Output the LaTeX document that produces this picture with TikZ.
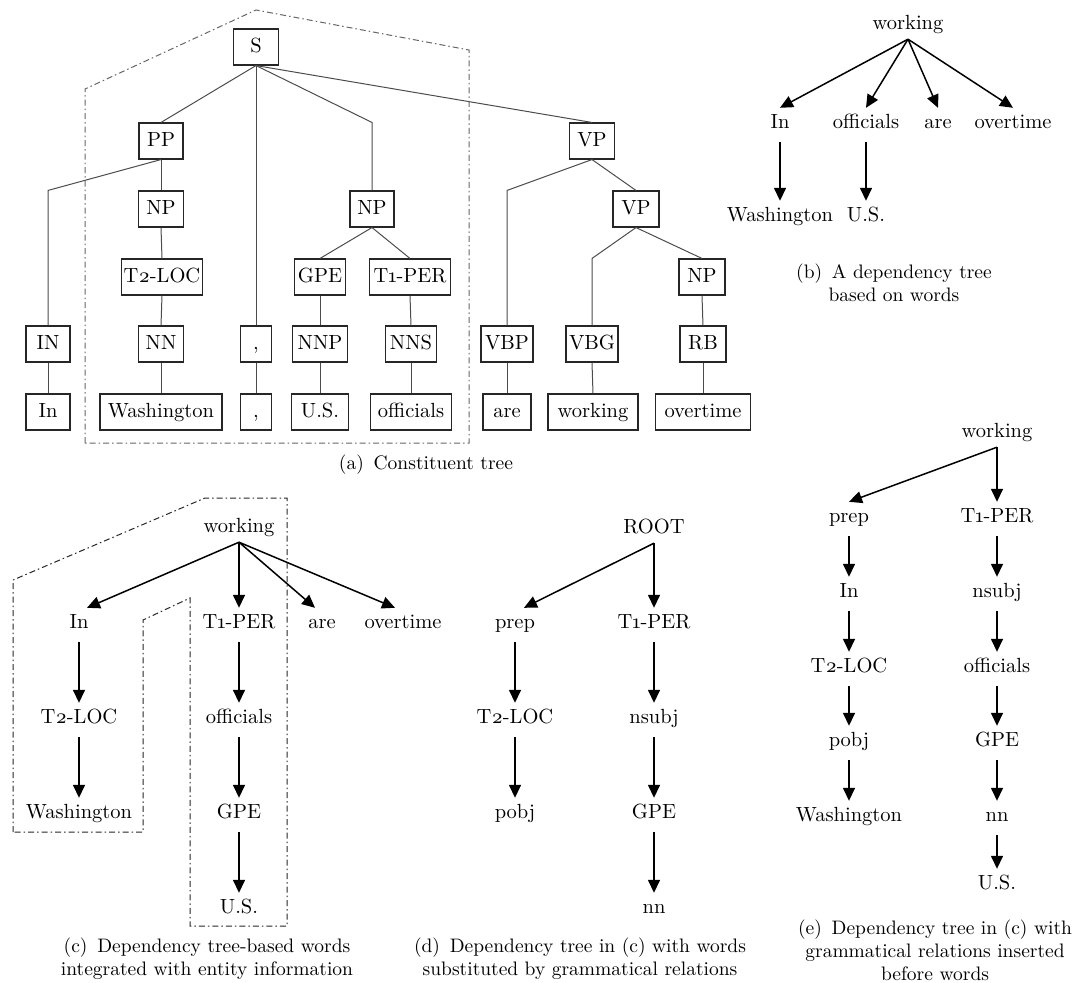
\documentclass[tikz,border=0pt]{standalone}
\usepackage{fontspec}
\setmainfont{lmroman10-regular}[Extension = .otf]
\usepackage{tikz}
\usetikzlibrary{arrows.meta,calc}

\begin{document}
\begin{tikzpicture}[x=1pt,y=-1pt]
\tikzset{
	box node/.style = {draw = black!85, line width = 1.1pt, font = \fontsize{20.5}{24}\selectfont, text height = 14pt, text depth = 4pt, inner xsep = 2pt, inner ysep = 9pt, minimum width = #1},
	box node/.default = 44pt,
	word node/.style = {font = \fontsize{20.5}{24}\selectfont, text height = 14pt, text depth = 8pt, inner xsep = 1pt, inner ysep = 6pt, anchor = base},
	root node/.style = {word node, text depth = 4pt},
	caption node/.style = {font = \fontsize{19.5}{23}\selectfont, align = center},
	tree line/.style = {draw = black!70, line width = 1pt},
	dep arrow/.style = {draw = black, line width = 1.5pt, -{Triangle[length = 13pt, width = 12pt]}},
	group line/.style = {line width = 1pt, dash pattern = on 6pt off 3pt on 1.5pt off 3pt}
}
\useasboundingbox (0,0) rectangle (1077,983);

% (a) constituent tree
\node (S) [box node = 45pt] at (256,47) {S};
\node (PP) [box node] at (161,141) {PP};
\node (VP) [box node = 45pt] at (592,141) {VP};
\node (NPa) [box node = 45pt] at (161,209) {NP};
\node (NPb) [box node] at (372,209) {NP};
\node (VPb) [box node = 46pt] at (636,209) {VP};
\node (TLOC) [box node = 81pt] at (162,277) {T\oldstylenums{2}-LOC};
\node (GPE) [box node = 51pt] at (320,277) {GPE};
\node (TPER) [box node = 81pt] at (410,277) {T\oldstylenums{1}-PER};
\node (NPc) [box node = 46pt] at (702,277) {NP};
\node (IN) [box node] at (48,344) {IN};
\node (NN) [box node = 45pt] at (161,344) {NN};
\node (CMa) [box node = 31pt] at (256,344) {,};
\node (NNP) [box node = 55pt] at (320,344) {NNP};
\node (NNS) [box node = 51pt] at (411,344) {NNS};
\node (VBP) [box node = 52pt] at (507,344) {VBP};
\node (VBG) [box node = 52pt] at (592,344) {VBG};
\node (RB) [box node = 46pt] at (703,344) {RB};
\node (In) [box node] at (48,412) {In};
\node (Wash) [box node = 122pt] at (161,412) {Washington};
\node (CMb) [box node = 31pt] at (256,412) {,};
\node (US) [box node = 57pt] at (320,412) {U.S.};
\node (off) [box node = 81pt] at (411,412) {officials};
\node (are) [box node = 48pt] at (507,412) {are};
\node (work) [box node = 90pt] at (593,412) {working};
\node (over) [box node = 95pt] at (703,412) {overtime};

\draw[tree line] (S.south) -- (PP.north);
\draw[tree line] (S.south) -- (CMa.north);
\draw[tree line] (S.south) -- (NPb |- PP.north) -- (NPb.north);
\draw[tree line] (S.south) -- (VP.north);
\draw[tree line] (PP.south) -- (IN |- NPa.north) -- (IN.north);
\draw[tree line] (NPb.south) -- (GPE.north);
\draw[tree line] (NPb.south) -- (TPER.north);
\draw[tree line] (VP.south) -- (VBP |- VPb.north) -- (VBP.north);
\draw[tree line] (VP.south) -- (VPb.north);
\draw[tree line] (VPb.south) -- (VBG |- NPc.north) -- (VBG.north);
\draw[tree line] (VPb.south) -- (NPc.north);
\foreach \a/\b in {PP/NPa, NPa/TLOC, TLOC/NN, NN/Wash, IN/In, CMa/CMb, GPE/NNP, NNP/US, TPER/NNS, NNS/off, VBP/are, VBG/work, NPc/RB, RB/over}
	\draw[tree line] (\a.south) -- (\b.north);

\draw[group line, black!60] (85,443) -- (85,89) -- (256,10) -- (469,50) -- (469,443) -- cycle;
\node (capa) [caption node] at (426,465) {(a)\enspace Constituent tree};

% (b) dependency tree on words
\node (bwork) [root node] at (908,29) {working};
\node (bIn) [word node] at (780,128) {In};
\node (boff) [word node] at (866,128) {officials};
\node (bare) [word node] at (938,128) {are};
\node (bover) [word node] at (1013,128) {overtime};
\node (bWash) [word node] at (780,221) {Washington};
\node (bUS) [word node] at (866,221) {U.S.};
\foreach \n in {bIn, boff, bare, bover}
	\draw[dep arrow] (bwork.south) -- (\n.north);
\draw[dep arrow] (bIn.south) -- (bWash.north);
\draw[dep arrow] (boff.south) -- (bUS.north);
\node (capb) [caption node] at (894,283) {(b)\enspace A dependency tree\\based on words};

% (c) words with entity information
\node (cwork) [root node] at (239,532) {working};
\node (cIn) [word node] at (79,628) {In};
\node (cTPER) [word node] at (239,628) {T\oldstylenums{1}-PER};
\node (care) [word node] at (322,628) {are};
\node (cover) [word node] at (403,628) {overtime};
\node (cTLOC) [word node] at (79,723) {T\oldstylenums{2}-LOC};
\node (cWash) [word node] at (79,818) {Washington};
\node (coff) [word node] at (239,723) {officials};
\node (cGPE) [word node] at (239,818) {GPE};
\node (cUS) [word node] at (239,913) {U.S.};
\draw[dep arrow] (cwork.south) -- ([xshift = 8pt]cIn.north);
\draw[dep arrow] (cwork.south) -- (cTPER.north);
\draw[dep arrow] (cwork.south) -- ([xshift = -7pt]care.north);
\draw[dep arrow] (cwork.south) -- ([xshift = -8pt]cover.north);
\foreach \a/\b in {cIn/cTLOC, cTLOC/cWash, cTPER/coff, coff/cGPE, cGPE/cUS}
	\draw[dep arrow] (\a.south) -- (\b.north);

\draw[group line, black!85] (13,832) -- (13,580) -- (205,498) -- (287,498) -- (287,926) -- (190,926) -- (190,598) -- (143,620) -- (143,832) -- cycle;
\node (capc) [caption node] at (207,959) {(c)\enspace Dependency tree-based words\\integrated with entity information};

% (d) words substituted by relations
\node (dROOT) [root node] at (654,533) {ROOT};
\node (dprep) [word node] at (515,628) {prep};
\node (dTPER) [word node] at (654,628) {T\oldstylenums{1}-PER};
\node (dTLOC) [word node] at (515,723) {T\oldstylenums{2}-LOC};
\node (dpobj) [word node] at (515,818) {pobj};
\node (dnsubj) [word node] at (654,723) {nsubj};
\node (dGPE) [word node] at (654,818) {GPE};
\node (dnn) [word node] at (654,913) {nn};
\draw[dep arrow] (dROOT.south) -- ([xshift = 9pt]dprep.north);
\draw[dep arrow] (dROOT.south) -- (dTPER.north);
\foreach \a/\b in {dprep/dTLOC, dTLOC/dpobj, dTPER/dnsubj, dnsubj/dGPE, dGPE/dnn}
	\draw[dep arrow] (\a.south) -- (\b.north);
\node (capd) [caption node] at (580,959) {(d)\enspace Dependency tree in (c) with words\\substituted by grammatical relations};

% (e) relations inserted before words
\node (ework) [root node] at (997,437) {working};
\node (eprep) [word node] at (849,522) {prep};
\node (eTPER) [word node] at (997,522) {T\oldstylenums{1}-PER};
\node (eIn) [word node] at (849,597) {In};
\node (eTLOC) [word node] at (849,672) {T\oldstylenums{2}-LOC};
\node (epobj) [word node] at (849,746) {pobj};
\node (eWash) [word node] at (849,821) {Washington};
\node (ensubj) [word node] at (997,597) {nsubj};
\node (eoff) [word node] at (997,672) {officials};
\node (eGPE) [word node] at (997,746) {GPE};
\node (enn) [word node] at (997,821) {nn};
\node (eUS) [word node] at (997,889) {U.S.};
\draw[dep arrow] (ework.south) -- (eprep.north);
\draw[dep arrow] (ework.south) -- (eTPER.north);
\foreach \a/\b in {eprep/eIn, eIn/eTLOC, eTLOC/epobj, epobj/eWash, eTPER/ensubj, ensubj/eoff, eoff/eGPE, eGPE/enn, enn/eUS}
	\draw[dep arrow] (\a.south) -- (\b.north);
\node (cape) [caption node] at (935,950) {(e)\enspace Dependency tree in (c) with\\grammatical relations inserted\\before words};
\end{tikzpicture}
\end{document}
